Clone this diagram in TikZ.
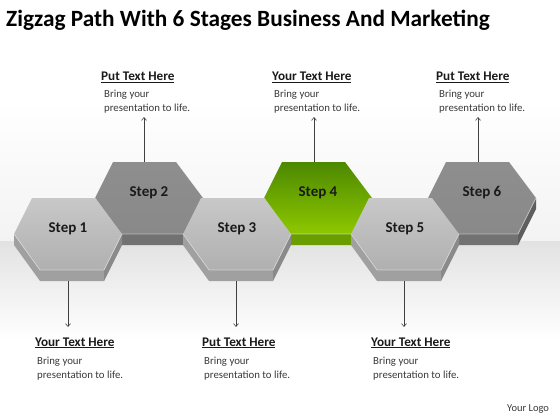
\documentclass[tikz,border=0pt]{standalone}
\usepackage{fontspec}
\setmainfont{Carlito}
\usetikzlibrary{arrows.meta}
\definecolor{lowtop}{HTML}{C8C8C8}
\definecolor{lowbot}{HTML}{B0B0B0}
\definecolor{lowside}{HTML}{A0A0A0}
\definecolor{lowdark}{HTML}{8A8A8A}
\definecolor{uptop}{HTML}{8E8E8E}
\definecolor{upbot}{HTML}{898989}
\definecolor{upside}{HTML}{727272}
\definecolor{updark}{HTML}{5E5E5E}
\definecolor{grtop}{HTML}{4C8800}
\definecolor{grbot}{HTML}{8EC800}
\definecolor{grside}{HTML}{6A9E00}
\definecolor{grdark}{HTML}{557F00}
\definecolor{band}{HTML}{E2E2E2}
\definecolor{haze}{HTML}{F3F3F3}
\definecolor{linec}{HTML}{404040}
\definecolor{txt}{HTML}{1A1A1A}
\definecolor{bodyc}{HTML}{3A3A3A}
\newcommand\hexstep[7]{% cx, cy, facetop, facebot, side, dark, label
  \begin{scope}[shift={(#1,#2)}]
    \fill[#5] (-54,0) -- (-28,36) -- (36,36) -- (36,47) -- (-28,47) -- (-54,11) -- cycle;
    \fill[#6] (36,36) -- (54,0) -- (54,11) -- (36,47) -- cycle;
    \shade[top color=#3, bottom color=#4] (-54,0) -- (-36,-36) -- (27,-36) -- (54,0) -- (36,36) -- (-28,36) -- cycle;
    \draw[white, opacity=.45, line width=.7] (-54,0) -- (-28,36) -- (36,36) -- (54,0);
    \node[steptxt] at (0,-5) {#7};
  \end{scope}}
\begin{document}
\begin{tikzpicture}[x=1pt,y=-1pt,
  steptxt/.style={font=\bfseries\fontsize{15}{15}\selectfont, text=txt, inner sep=0},
  headtxt/.style={font=\bfseries\fontsize{13.2}{15}\selectfont, text=txt, inner sep=0, anchor=base west},
  bodytxt/.style={font=\fontsize{10.8}{14}\selectfont, text=bodyc, inner sep=0, anchor=north west, align=left},
  conn/.style={draw=linec, line width=.6pt, -{Straight Barb[length=3pt,width=5pt]}}]
\useasboundingbox (0,0) rectangle (560,420);
% background
\fill[white] (0,0) rectangle (560,420);
\shade[top color=white, bottom color=haze] (0,100) rectangle (560,241);
\shade[top color=band, bottom color=white] (0,241) rectangle (560,340);
% title
\node[font=\bfseries\fontsize{23.3}{26}\selectfont, text=black, inner sep=0, anchor=base west] (title) at (6,27) {Zigzag Path With 6 Stages Business And Marketing};
% hexagons (upper row first)
\hexstep{149}{198}{uptop}{upbot}{upside}{updark}{Step 2}
\hexstep{318}{198}{grtop}{grbot}{grside}{grdark}{Step 4}
\hexstep{482}{198}{uptop}{upbot}{upside}{updark}{Step 6}
\hexstep{68}{234}{lowtop}{lowbot}{lowside}{lowdark}{Step 1}
\hexstep{237}{234}{lowtop}{lowbot}{lowside}{lowdark}{Step 3}
\hexstep{405}{234}{lowtop}{lowbot}{lowside}{lowdark}{Step 5}
% connector anchors
\coordinate (t2) at (144,162);
\coordinate (t4) at (314,162);
\coordinate (t6) at (478,162);
\coordinate (b1) at (68,281);
\coordinate (b3) at (236,281);
\coordinate (b5) at (404,281);
\coordinate (e2) at (144,117);
\coordinate (e4) at (314,117);
\coordinate (e6) at (478,117);
\coordinate (f1) at (68,327);
\coordinate (f3) at (236,327);
\coordinate (f5) at (404,327);
\draw[conn] (t2) -- (e2);
\draw[conn] (t4) -- (e4);
\draw[conn] (t6) -- (e6);
\draw[conn] (b1) -- (f1);
\draw[conn] (b3) -- (f3);
\draw[conn] (b5) -- (f5);
% top labels
\node[headtxt] (h2) at (101,81) {\underline{Put Text Here}};
\node[bodytxt] (d2) at (104,90) {Bring your\\presentation to life.};
\node[headtxt] (h4) at (272,81) {\underline{Your Text Here}};
\node[bodytxt] (d4) at (274,90) {Bring your\\presentation to life.};
\node[headtxt] (h6) at (436,81) {\underline{Put Text Here}};
\node[bodytxt] (d6) at (439,90) {Bring your\\presentation to life.};
% bottom labels
\node[headtxt] (h1) at (35,346) {\underline{Your Text Here}};
\node[bodytxt] (d1) at (37,357) {Bring your\\presentation to life.};
\node[headtxt] (h3) at (202,346) {\underline{Put Text Here}};
\node[bodytxt] (d3) at (204,357) {Bring your\\presentation to life.};
\node[headtxt] (h5) at (371,346) {\underline{Your Text Here}};
\node[bodytxt] (d5) at (373,357) {Bring your\\presentation to life.};
% logo
\node[font=\fontsize{10.5}{12}\selectfont, text=bodyc, inner sep=0, anchor=base west] (logo) at (507,411) {Your Logo};
\end{tikzpicture}
\end{document}
